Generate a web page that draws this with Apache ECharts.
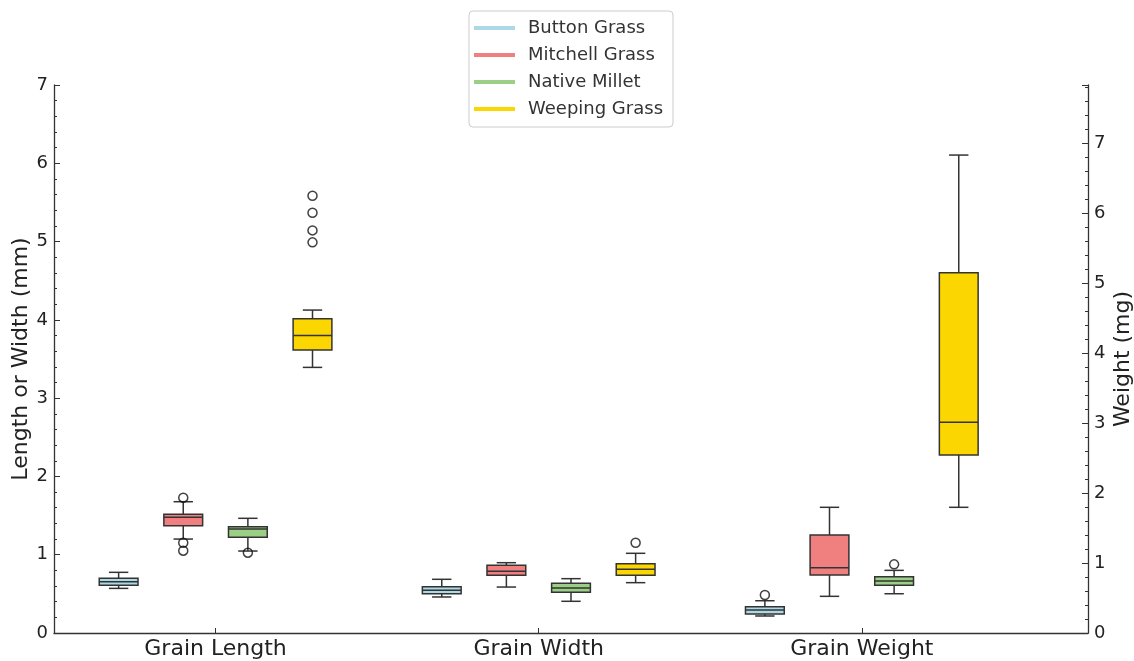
<!DOCTYPE html>
<html>
<head>
<meta charset="utf-8">
<script src="https://cdn.jsdelivr.net/npm/echarts@6/dist/echarts.min.js"></script>
<style>
  html, body { margin: 0; padding: 0; background: #fff; }
  #chart { width: 1134px; height: 661px; }
</style>
</head>
<body>
<div id="chart"></div>
<script>
const categories = ['Grain Length', 'Grain Width', 'Grain Weight']
const species = ['Button Grass', 'Mitchell Grass', 'Native Millet', 'Weeping Grass']
const colors = ['#add8e6', '#f08080', '#9bcf86', '#fcd600']

// [min, Q1, median, Q3, max] for length, width (mm) and weight (mg)
const buttonGrass = [[0.57, 0.61, 0.655, 0.70, 0.775], [0.46, 0.50, 0.545, 0.59, 0.686], [0.243, 0.271, 0.329, 0.376, 0.461]]
const mitchellGrass = [[1.20, 1.371, 1.478, 1.516, 1.677], [0.587, 0.737, 0.79, 0.864, 0.898], [0.524, 0.829, 0.933, 1.40, 1.796]]
const nativeMillet = [[1.047, 1.222, 1.328, 1.358, 1.465], [0.405, 0.52, 0.575, 0.635, 0.694], [0.561, 0.681, 0.743, 0.805, 0.895]]
const weepingGrass = [[3.393, 3.614, 3.80, 4.014, 4.125], [0.643, 0.737, 0.813, 0.885, 1.018], [1.796, 2.543, 3.01, 5.147, 6.829]]

// outliers per category
const buttonOutliers = [[], [], [0.543]]
const mitchellOutliers = [[1.728, 1.153, 1.051], [], []]
const milletOutliers = [[1.026], [], [0.981]]
const weepingOutliers = [[5.585, 5.368, 5.143, 4.99], [1.153], []]

const stats = [buttonGrass, mitchellGrass, nativeMillet, weepingGrass]
const outliers = [buttonOutliers, mitchellOutliers, milletOutliers, weepingOutliers]

const fontFamily = 'DejaVu Sans'
const edge = '#333'
const boxWidth = 0.12
const speciesOffset = [-0.3, -0.1, 0.1, 0.3]

function renderBox(params, api) {
  const x = api.value(0)
  const lo = api.value(1), q1 = api.value(2), med = api.value(3), q3 = api.value(4), hi = api.value(5)
  const pt = (dx, v) => api.coord([x + dx, v])
  const hw = boxWidth / 2
  const cw = boxWidth / 4
  const line = (a, b) => ({
    type: 'line',
    shape: { x1: a[0], y1: a[1], x2: b[0], y2: b[1] },
    style: { stroke: edge, lineWidth: 1.5 }
  })
  const tl = pt(-hw, q3)
  const br = pt(hw, q1)
  return {
    type: 'group',
    children: [
      line(pt(0, hi), pt(0, q3)),
      line(pt(0, q1), pt(0, lo)),
      line(pt(-cw, hi), pt(cw, hi)),
      line(pt(-cw, lo), pt(cw, lo)),
      {
        type: 'rect',
        shape: { x: tl[0], y: tl[1], width: br[0] - tl[0], height: br[1] - tl[1] },
        style: { fill: api.visual('color'), stroke: edge, lineWidth: 1.5 }
      },
      line(pt(-hw, med), pt(hw, med))
    ]
  }
}

const series = []
const outlierData = [[], []]
species.forEach(function(name, s) {
  [0, 1].forEach(function(axis) {
    const data = []
    stats[s].forEach(function(st, c) {
      if ((c === 2) === (axis === 1)) data.push([c + speciesOffset[s]].concat(st))
    })
    series.push({
      type: 'custom',
      name: name,
      xAxisIndex: 0,
      yAxisIndex: axis,
      itemStyle: { color: colors[s] },
      encode: { x: 0, y: [1, 2, 3, 4, 5] },
      renderItem: renderBox,
      data: data,
      z: 2
    })
  })
  outliers[s].forEach(function(list, c) {
    list.forEach(function(v) {
      outlierData[c === 2 ? 1 : 0].push([c + speciesOffset[s], v])
    })
  })
})
outlierData.forEach(function(data, axis) {
  series.push({
    type: 'scatter',
    name: 'outliers',
    xAxisIndex: 0,
    yAxisIndex: axis,
    symbol: 'circle',
    symbolSize: 9,
    itemStyle: { color: 'rgba(0,0,0,0)', borderColor: '#111', borderWidth: 1.5 },
    data: data,
    z: 3
  })
})

const axisCommon = {
  axisLine: { show: true, onZero: false, lineStyle: { color: edge, width: 1.3 } },
  axisTick: { show: true, inside: true, length: 6, lineStyle: { color: edge } },
  minorTick: { show: true, splitNumber: 5, length: 3, lineStyle: { color: edge } },
  splitLine: { show: false },
  axisLabel: { fontSize: 18, color: '#222', fontFamily: fontFamily, margin: 6 },
  nameLocation: 'middle',
  nameMoveOverlap: false,
  nameTextStyle: { fontSize: 22, color: '#222', fontFamily: fontFamily }
}

const chart = echarts.init(document.getElementById('chart'))
chart.setOption({
  animation: false,
  backgroundColor: '#fff',
  legend: {
    data: species,
    orient: 'vertical',
    left: 469,
    top: 11,
    icon: 'rect',
    itemWidth: 41,
    itemHeight: 4,
    itemGap: 9,
    padding: [8, 10, 9, 5],
    borderColor: '#ccc',
    borderWidth: 1,
    borderRadius: 4,
    backgroundColor: '#fff',
    textStyle: { fontSize: 18, color: '#333', fontFamily: fontFamily, lineHeight: 18, padding: [0, 0, 0, 8] }
  },
  grid: { left: 54, right: 46, top: 85, bottom: 28, containLabel: false, outerBoundsMode: 'none' },
  xAxis: {
    type: 'value',
    min: -0.5,
    max: 2.7,
    axisLine: { onZero: false, lineStyle: { color: edge, width: 1.3 } },
    axisTick: { show: true, inside: true, length: 5, customValues: [0, 1, 2], lineStyle: { color: edge } },
    axisLabel: {
      customValues: [0, 1, 2],
      formatter: function(v) { return categories[Math.round(v)] },
      fontSize: 22,
      color: '#222',
      fontFamily: fontFamily,
      margin: 5
    },
    splitLine: { show: false }
  },
  yAxis: [
    Object.assign({}, axisCommon, {
      type: 'value',
      position: 'left',
      min: 0,
      max: 7,
      interval: 1,
      name: 'Length or Width (mm)',
      nameGap: 22
    }),
    Object.assign({}, axisCommon, {
      type: 'value',
      position: 'right',
      min: 0,
      max: 7.83,
      interval: 1,
      axisLabel: Object.assign({}, axisCommon.axisLabel, { showMaxLabel: false }),
      name: 'Weight (mg)',
      nameGap: 24
    })
  ],
  series: series
})
</script>
</body>
</html>
